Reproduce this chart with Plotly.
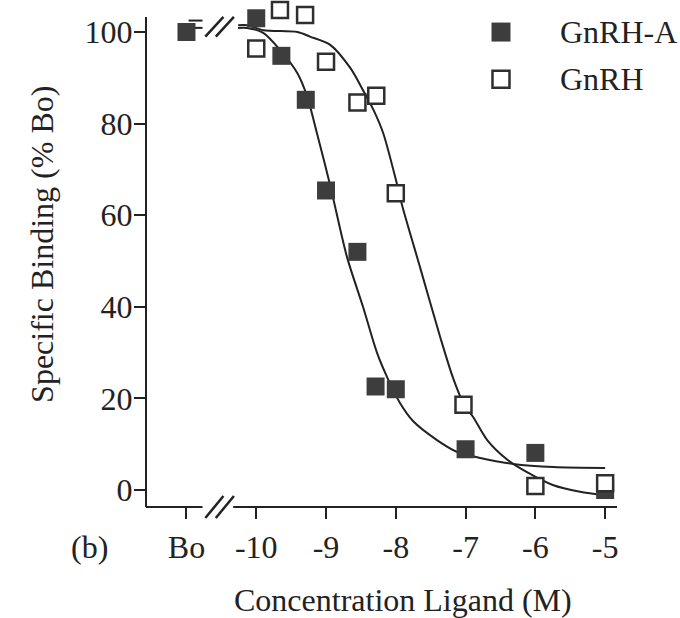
import plotly.graph_objects as go

# ---------------- data (log10 molar concentration; Bo plotted at -11) ----------------
tick_vals = [-11, -10, -9, -8, -7, -6, -5]
tick_text = ["Bo", "-10", "-9", "-8", "-7", "-6", "-5"]
y_ticks = [0, 20, 40, 60, 80, 100]

series_names = ["GnRH-A", "GnRH"]

gnrha_x = [-11, -10.0, -9.64, -9.29, -9.0, -8.55, -8.29, -8.0, -7.0, -6.0, -5.0]
gnrha_y = [100, 103.0, 94.8, 85.2, 65.4, 52.0, 22.6, 22.0, 8.9, 8.1, 0.0]

gnrh_x = [-10.0, -9.66, -9.3, -9.0, -8.55, -8.28, -8.0, -7.03, -6.0, -5.0]
gnrh_y = [96.4, 104.8, 103.7, 93.5, 84.6, 86.1, 64.8, 18.6, 0.9, 1.5]

# fitted curves (None = axis break)
gnrha_fit_x = [-11.0, -10.77, None, -10.26, -10.13, -9.90, -9.66, -9.41, -9.27, -9.13, -8.94,
               -8.70, -8.47, -8.27, -8.12, -7.94, -7.75, -7.41, -7.12, -6.79, -6.32,
               -5.74, -5.0]
gnrha_fit_y = [100.9, 100.9, None, 100.9, 100.9, 99.8, 96.1, 91.0, 85.9, 77.9, 66.5,
               50.9, 40.0, 30.0, 24.5, 19.0, 15.0, 10.9, 8.3, 7.0, 5.7,
               5.0, 4.8]

gnrh_fit_x = [-10.97, -10.77, None, -10.26, -10.13, -9.90, -9.41, -9.23, -8.94, -8.65, -8.47,
              -8.32, -8.18, -7.98, -7.91, -7.65, -7.36, -7.18, -7.02, -6.89, -6.69, -6.40,
              -6.12, -5.75, -5.36, -5.0]
gnrh_fit_y = [102.5, 102.5, None, 101.5, 101.5, 100.4, 100.0, 99.0, 97.2, 92.1, 87.3,
              83.0, 77.9, 66.6, 62.2, 48.5, 33.2, 24.5, 18.6, 15.9, 10.9, 6.6,
              3.9, 1.1, -0.4, -1.2]

# ---------------- layout constants ----------------
break_slashes = [(-10.73, -10.47), (-10.58, -10.32)]
axis_gap = (-10.77, -10.33)
x_range = [-11.58, -4.83]
y_range = [-3.71, 105.68]
y_axis_top = 103.3

# manual legend placement (fractions of the plotting area)
LEG_SYM_X = 0.7537
LEG_TXT_X = 0.8747
LEG_ROWS_Y = [0.948, 0.854]

INK = "#222222"
FILL = "#3d3d3d"
FONT = "Liberation Serif"
FS = 32

filled_marker = dict(symbol="square", size=18, color=FILL, line=dict(color=FILL, width=0))
open_marker = dict(symbol="square", size=16, color="white", line=dict(color="#2f2f2f", width=2.5))

fig = go.Figure()

fig.add_trace(go.Scatter(x=gnrha_fit_x, y=gnrha_fit_y, mode="lines",
                         line=dict(color=INK, width=2, shape="spline", smoothing=0.8),
                         connectgaps=False, hoverinfo="skip", cliponaxis=False))
fig.add_trace(go.Scatter(x=gnrh_fit_x, y=gnrh_fit_y, mode="lines",
                         line=dict(color=INK, width=2, shape="spline", smoothing=0.8),
                         connectgaps=False, hoverinfo="skip", cliponaxis=False))

fig.add_trace(go.Scatter(x=gnrha_x, y=gnrha_y, mode="markers", name=series_names[0],
                         cliponaxis=False, marker=filled_marker))
fig.add_trace(go.Scatter(x=gnrh_x, y=gnrh_y, mode="markers", name=series_names[1],
                         cliponaxis=False, marker=open_marker))

# legend key symbols on a hidden helper axis pair spanning the plot area
fig.add_trace(go.Scatter(x=[LEG_SYM_X], y=[LEG_ROWS_Y[0]], mode="markers",
                         xaxis="x2", yaxis="y2", hoverinfo="skip", cliponaxis=False,
                         marker=dict(filled_marker, size=19)))
fig.add_trace(go.Scatter(x=[LEG_SYM_X], y=[LEG_ROWS_Y[1]], mode="markers",
                         xaxis="x2", yaxis="y2", hoverinfo="skip", cliponaxis=False,
                         marker=dict(open_marker, size=17)))

shapes = []
# y-axis line (stops at the top of the drawn scale)
shapes.append(dict(type="line", xref="paper", yref="y", x0=0, x1=0,
                   y0=y_range[0], y1=y_axis_top, line=dict(color=INK, width=2)))
# x-axis line with a break
shapes.append(dict(type="line", xref="x", yref="paper", x0=x_range[0], x1=axis_gap[0],
                   y0=0, y1=0, line=dict(color=INK, width=2)))
shapes.append(dict(type="line", xref="x", yref="paper", x0=axis_gap[1], x1=x_range[1],
                   y0=0, y1=0, line=dict(color=INK, width=2)))
for (a, b) in break_slashes:
    shapes.append(dict(type="line", xref="x", yref="paper", x0=a, x1=b,
                       y0=-0.022, y1=0.022, line=dict(color=INK, width=2.5)))
    shapes.append(dict(type="line", xref="x", yref="y", x0=a, x1=b,
                       y0=99.0, y1=103.3, line=dict(color=INK, width=2.5)))

annotations = [
    dict(text="Concentration Ligand (M)", xref="paper", yref="paper", x=0.545, y=-0.186,
         xanchor="center", yanchor="middle", showarrow=False),
    dict(text="Specific Binding (% Bo)", xref="paper", yref="paper", x=-0.221, y=0.525,
         xanchor="center", yanchor="middle", showarrow=False, textangle=-90),
    dict(text="(b)", xref="paper", yref="paper", x=-0.12, y=-0.08,
         xanchor="center", yanchor="middle", showarrow=False),
]
for name, yy in zip(series_names, LEG_ROWS_Y):
    annotations.append(dict(text=name, xref="x2", yref="y2", x=LEG_TXT_X, y=yy,
                            xanchor="left", yanchor="middle", showarrow=False))

fig.update_layout(
    width=680, height=618,
    margin=dict(l=146, r=63, t=6, b=111),
    plot_bgcolor="rgba(0,0,0,0)", paper_bgcolor="white",
    font=dict(family=FONT, size=FS, color=INK),
    showlegend=False,
    shapes=shapes, annotations=annotations,
    xaxis=dict(range=x_range, tickvals=tick_vals, ticktext=tick_text,
               showgrid=False, zeroline=False, showline=False,
               ticks="outside", ticklen=11, tickwidth=2, tickcolor=INK,
               ticklabelstandoff=1),
    yaxis=dict(range=y_range, tickvals=y_ticks, showgrid=False, zeroline=False,
               showline=False,
               ticks="outside", ticklen=11, tickwidth=2, tickcolor=INK,
               ticklabelstandoff=-5),
    xaxis2=dict(domain=[0, 1], range=[0, 1], anchor="y2", visible=False, fixedrange=True),
    yaxis2=dict(domain=[0, 1], range=[0, 1], anchor="x2", visible=False, fixedrange=True),
)

fig.write_html("out.html")
